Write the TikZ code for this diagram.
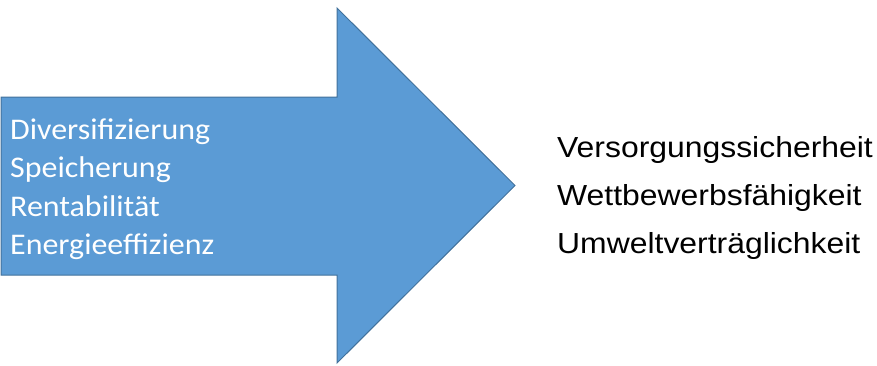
\documentclass[tikz,border=0pt]{standalone}
\usepackage{fontspec}
\setmainfont{Carlito}
\newfontfamily\arialfont{Liberation Sans}
\definecolor{arrowfill}{HTML}{5B9BD5}
\definecolor{arrowline}{HTML}{41719C}
\newcommand{\hstretch}[1]{\scalebox{1.065}[1]{#1}}
\newcommand{\rstretch}[1]{\scalebox{1.10}[1]{#1}}
\begin{document}
\begin{tikzpicture}[x=1pt,y=-1pt,
  lefttext/.style={anchor=base west,inner sep=0pt,text=white,font=\fontsize{30}{36}\selectfont},
  righttext/.style={anchor=base west,inner sep=0pt,text=black,font=\arialfont\fontsize{29}{34}\selectfont}]
\useasboundingbox (0,0) rectangle (877,365);
\draw[fill=arrowfill,draw=arrowline,line width=1pt,line join=miter]
  (1,97) -- (337,97) -- (337,8) -- (515,185.5) -- (337,363) -- (337,275) -- (1,275) -- cycle;
\node[lefttext] (l1) at (10,139) {\hstretch{Diversifizierung}};
\node[lefttext] (l2) at (10,177.5) {\hstretch{Speicherung}};
\node[lefttext] (l3) at (10,216) {\hstretch{Rentabilität}};
\node[lefttext] (l4) at (10,254.5) {\hstretch{Energieeffizienz}};
\node[righttext] (r1) at (557,157.5) {\rstretch{Versorgungssicherheit}};
\node[righttext] (r2) at (557,205.5) {\rstretch{Wettbewerbsfähigkeit}};
\node[righttext] (r3) at (557,253.5) {\rstretch{Umweltverträglichkeit}};
\end{tikzpicture}
\end{document}
